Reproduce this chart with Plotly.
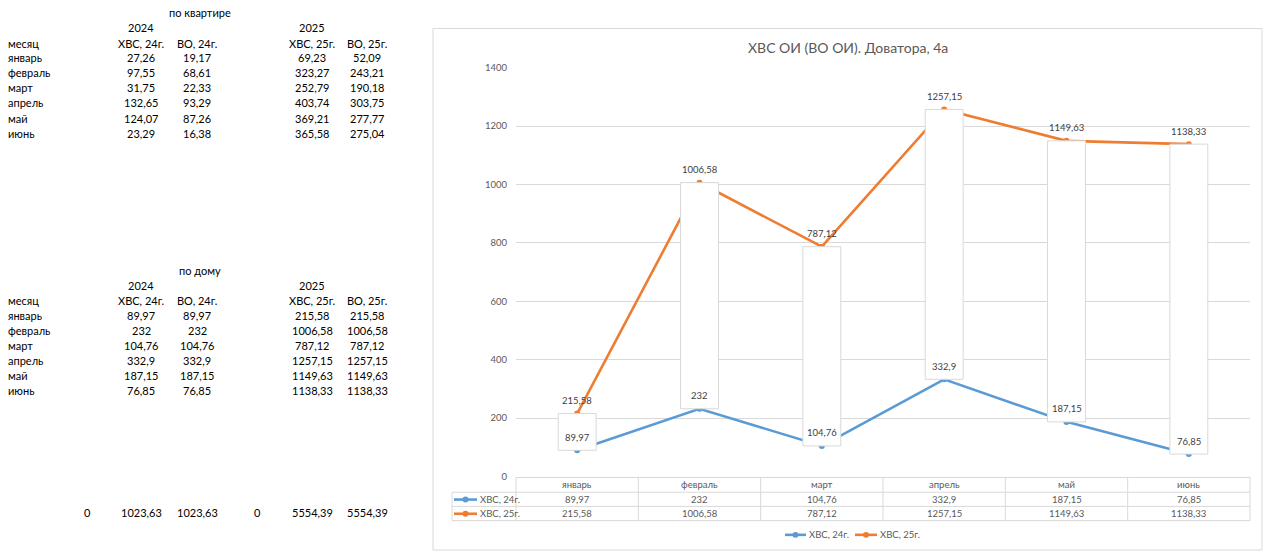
import plotly.graph_objects as go

# размеры окна
W, H = 1265, 557

months = ['январь', 'февраль', 'март', 'апрель', 'май', 'июнь']
col_heads = ['ХВС, 24г.', 'ВО, 24г.', 'ХВС, 25г.', 'ВО, 25г.']
years = ['2024', '2025']

# по квартире
kv_hvs24 = [27.26, 97.55, 31.75, 132.65, 124.07, 23.29]
kv_vo24 = [19.17, 68.61, 22.33, 93.29, 87.26, 16.38]
kv_hvs25 = [69.23, 323.27, 252.79, 403.74, 369.21, 365.58]
kv_vo25 = [52.09, 243.21, 190.18, 303.75, 277.77, 275.04]

# по дому
dom_hvs24 = [89.97, 232, 104.76, 332.9, 187.15, 76.85]
dom_vo24 = [89.97, 232, 104.76, 332.9, 187.15, 76.85]
dom_hvs25 = [215.58, 1006.58, 787.12, 1257.15, 1149.63, 1138.33]
dom_vo25 = [215.58, 1006.58, 787.12, 1257.15, 1149.63, 1138.33]

series_names = ['ХВС, 24г.', 'ХВС, 25г.']
BLUE = '#5B9BD5'
ORANGE = '#ED7D31'
GRID = '#d9d9d9'
FONT = 'Lato'


def px(x):
    return x / W


def py(y):
    return 1 - y / H


def fmt(v):
    return f'{v:g}'.replace('.', ',')


annotations = []
shapes = []


def txt(x, y, s, anchor='center', size=11, color='black', xref='paper'):
    annotations.append(dict(x=x if xref != 'paper' else px(x), y=py(y), xref=xref, yref='paper',
                            text=s, showarrow=False, xanchor=anchor, yanchor='middle',
                            font=dict(family=FONT, size=size, color=color)))


# ---- левая часть: таблица как в листе ----
col_x = [141, 197, 312, 367]


def block(y_title, title, y_year, y_head, y_rows, step, cols):
    txt(200, y_title, title)
    txt(col_x[0], y_year, years[0])
    txt(col_x[2], y_year, years[1])
    txt(6, y_head, 'месяц', anchor='left')
    for c, h in enumerate(col_heads):
        txt(col_x[c], y_head, h)
    for i, m in enumerate(months):
        yy = y_rows + step * i
        txt(6, yy, m, anchor='left')
        for c, vals in enumerate(cols):
            txt(col_x[c], yy, fmt(vals[i]))


block(7, 'по квартире', 22, 38, 52.5, 15.45, [kv_hvs24, kv_vo24, kv_hvs25, kv_vo25])
block(270, 'по дому', 285, 300, 316, 15.2, [dom_hvs24, dom_vo24, dom_hvs25, dom_vo25])

# итоги
txt(87, 517, '0')
txt(col_x[0], 517, fmt(round(sum(dom_hvs24), 2)))
txt(col_x[1], 517, fmt(round(sum(dom_vo24), 2)))
txt(257, 517, '0')
txt(col_x[2], 517, fmt(round(sum(dom_hvs25), 2)))
txt(col_x[3], 517, fmt(round(sum(dom_vo25), 2)))

# ---- диаграмма ----
low = [min(a, b) for a, b in zip(dom_hvs24, dom_hvs25)]
high = [max(a, b) for a, b in zip(dom_hvs24, dom_hvs25)]

fig = go.Figure()

fig.add_trace(go.Scatter(x=months, y=dom_hvs24, mode='lines+markers', name=series_names[0],
                         line=dict(color=BLUE, width=2.6), marker=dict(size=6, color=BLUE)))
fig.add_trace(go.Scatter(x=months, y=dom_hvs25, mode='lines+markers', name=series_names[1],
                         line=dict(color=ORANGE, width=2.6), marker=dict(size=6, color=ORANGE)))
# белые прямоугольники (повышение/понижение) поверх линий
fig.add_trace(go.Bar(x=months, y=[h - l for h, l in zip(high, low)], base=low, width=0.31,
                     marker=dict(color='white', line=dict(color=GRID, width=1)),
                     yaxis='y2', showlegend=False, hoverinfo='skip'))

# подписи данных
for ser in (dom_hvs24, dom_hvs25):
    for m, v in zip(months, ser):
        annotations.append(dict(x=m, y=v, xref='x', yref='y', text=fmt(v), showarrow=False,
                                yshift=13, font=dict(family=FONT, size=9.5, color='#404040')))

# заголовок
txt(848, 42, 'ХВС ОИ (ВО ОИ). Доватора, 4а', size=14, color='#595959')

# рамка диаграммы
shapes.append(dict(type='rect', xref='paper', yref='paper', x0=px(433), x1=px(1262), y0=py(555), y1=py(23),
                   line=dict(color=GRID, width=1)))

# таблица данных под осью
tx0, tx1 = 516, 1250
rows_y = [481, 496, 510.5, 525]
shapes.append(dict(type='line', xref='paper', yref='paper', x0=px(tx0), x1=px(tx1), y0=py(rows_y[0]), y1=py(rows_y[0]),
                   line=dict(color=GRID, width=1)))
for ry in rows_y[1:]:
    shapes.append(dict(type='line', xref='paper', yref='paper', x0=px(452), x1=px(tx1), y0=py(ry), y1=py(ry),
                       line=dict(color=GRID, width=1)))
for i in range(len(months) + 1):
    xx = tx0 + (tx1 - tx0) * i / len(months)
    shapes.append(dict(type='line', xref='paper', yref='paper', x0=px(xx), x1=px(xx), y0=py(rows_y[0]), y1=py(rows_y[3]),
                       line=dict(color=GRID, width=1)))
shapes.append(dict(type='line', xref='paper', yref='paper', x0=px(452), x1=px(452), y0=py(rows_y[1]), y1=py(rows_y[3]),
                   line=dict(color=GRID, width=1)))

for m in months:
    txt(m, 488.5, m, size=9.5, color='#595959', xref='x')
for m, v in zip(months, dom_hvs24):
    txt(m, 503.5, fmt(v), size=9.5, color='#595959', xref='x')
for m, v in zip(months, dom_hvs25):
    txt(m, 518, fmt(v), size=9.5, color='#595959', xref='x')


def key(x0, x1, y, color, label):
    shapes.append(dict(type='line', xref='paper', yref='paper', x0=px(x0), x1=px(x1), y0=py(y), y1=py(y),
                       line=dict(color=color, width=2.6)))
    cx = (x0 + x1) / 2
    shapes.append(dict(type='circle', xref='paper', yref='paper', x0=px(cx - 3), x1=px(cx + 3),
                       y0=py(y + 3), y1=py(y - 3), fillcolor=color, line=dict(color=color, width=0)))
    txt(x1 + 1, y, label, anchor='left', size=9.5, color='#595959')


key(454, 477, 503.5, BLUE, series_names[0])
key(454, 477, 518, ORANGE, series_names[1])
# легенда внизу
key(785, 806, 539.5, BLUE, series_names[0])
key(855, 877, 539.5, ORANGE, series_names[1])

fig.update_layout(
    width=W, height=H,
    margin=dict(l=0, r=0, t=0, b=0),
    paper_bgcolor='white', plot_bgcolor='white',
    showlegend=False,
    font=dict(family=FONT),
    xaxis=dict(domain=[px(516), px(1250)], showticklabels=False, showgrid=False, zeroline=False,
               showline=False, ticks=''),
    yaxis=dict(domain=[py(480), py(63)], range=[0, 1400], dtick=200, showgrid=True, gridcolor=GRID,
               gridwidth=1, zeroline=False, showline=False, ticks='', ticklabelstandoff=8,
               tickfont=dict(family=FONT, size=9.5, color='#595959')),
    yaxis2=dict(overlaying='y', range=[0, 1400], visible=False),
    annotations=annotations,
    shapes=shapes,
)

fig.write_html('out.html', config={'displayModeBar': False},
               post_script="document.body.style.margin='0';document.body.style.overflow='hidden';")
